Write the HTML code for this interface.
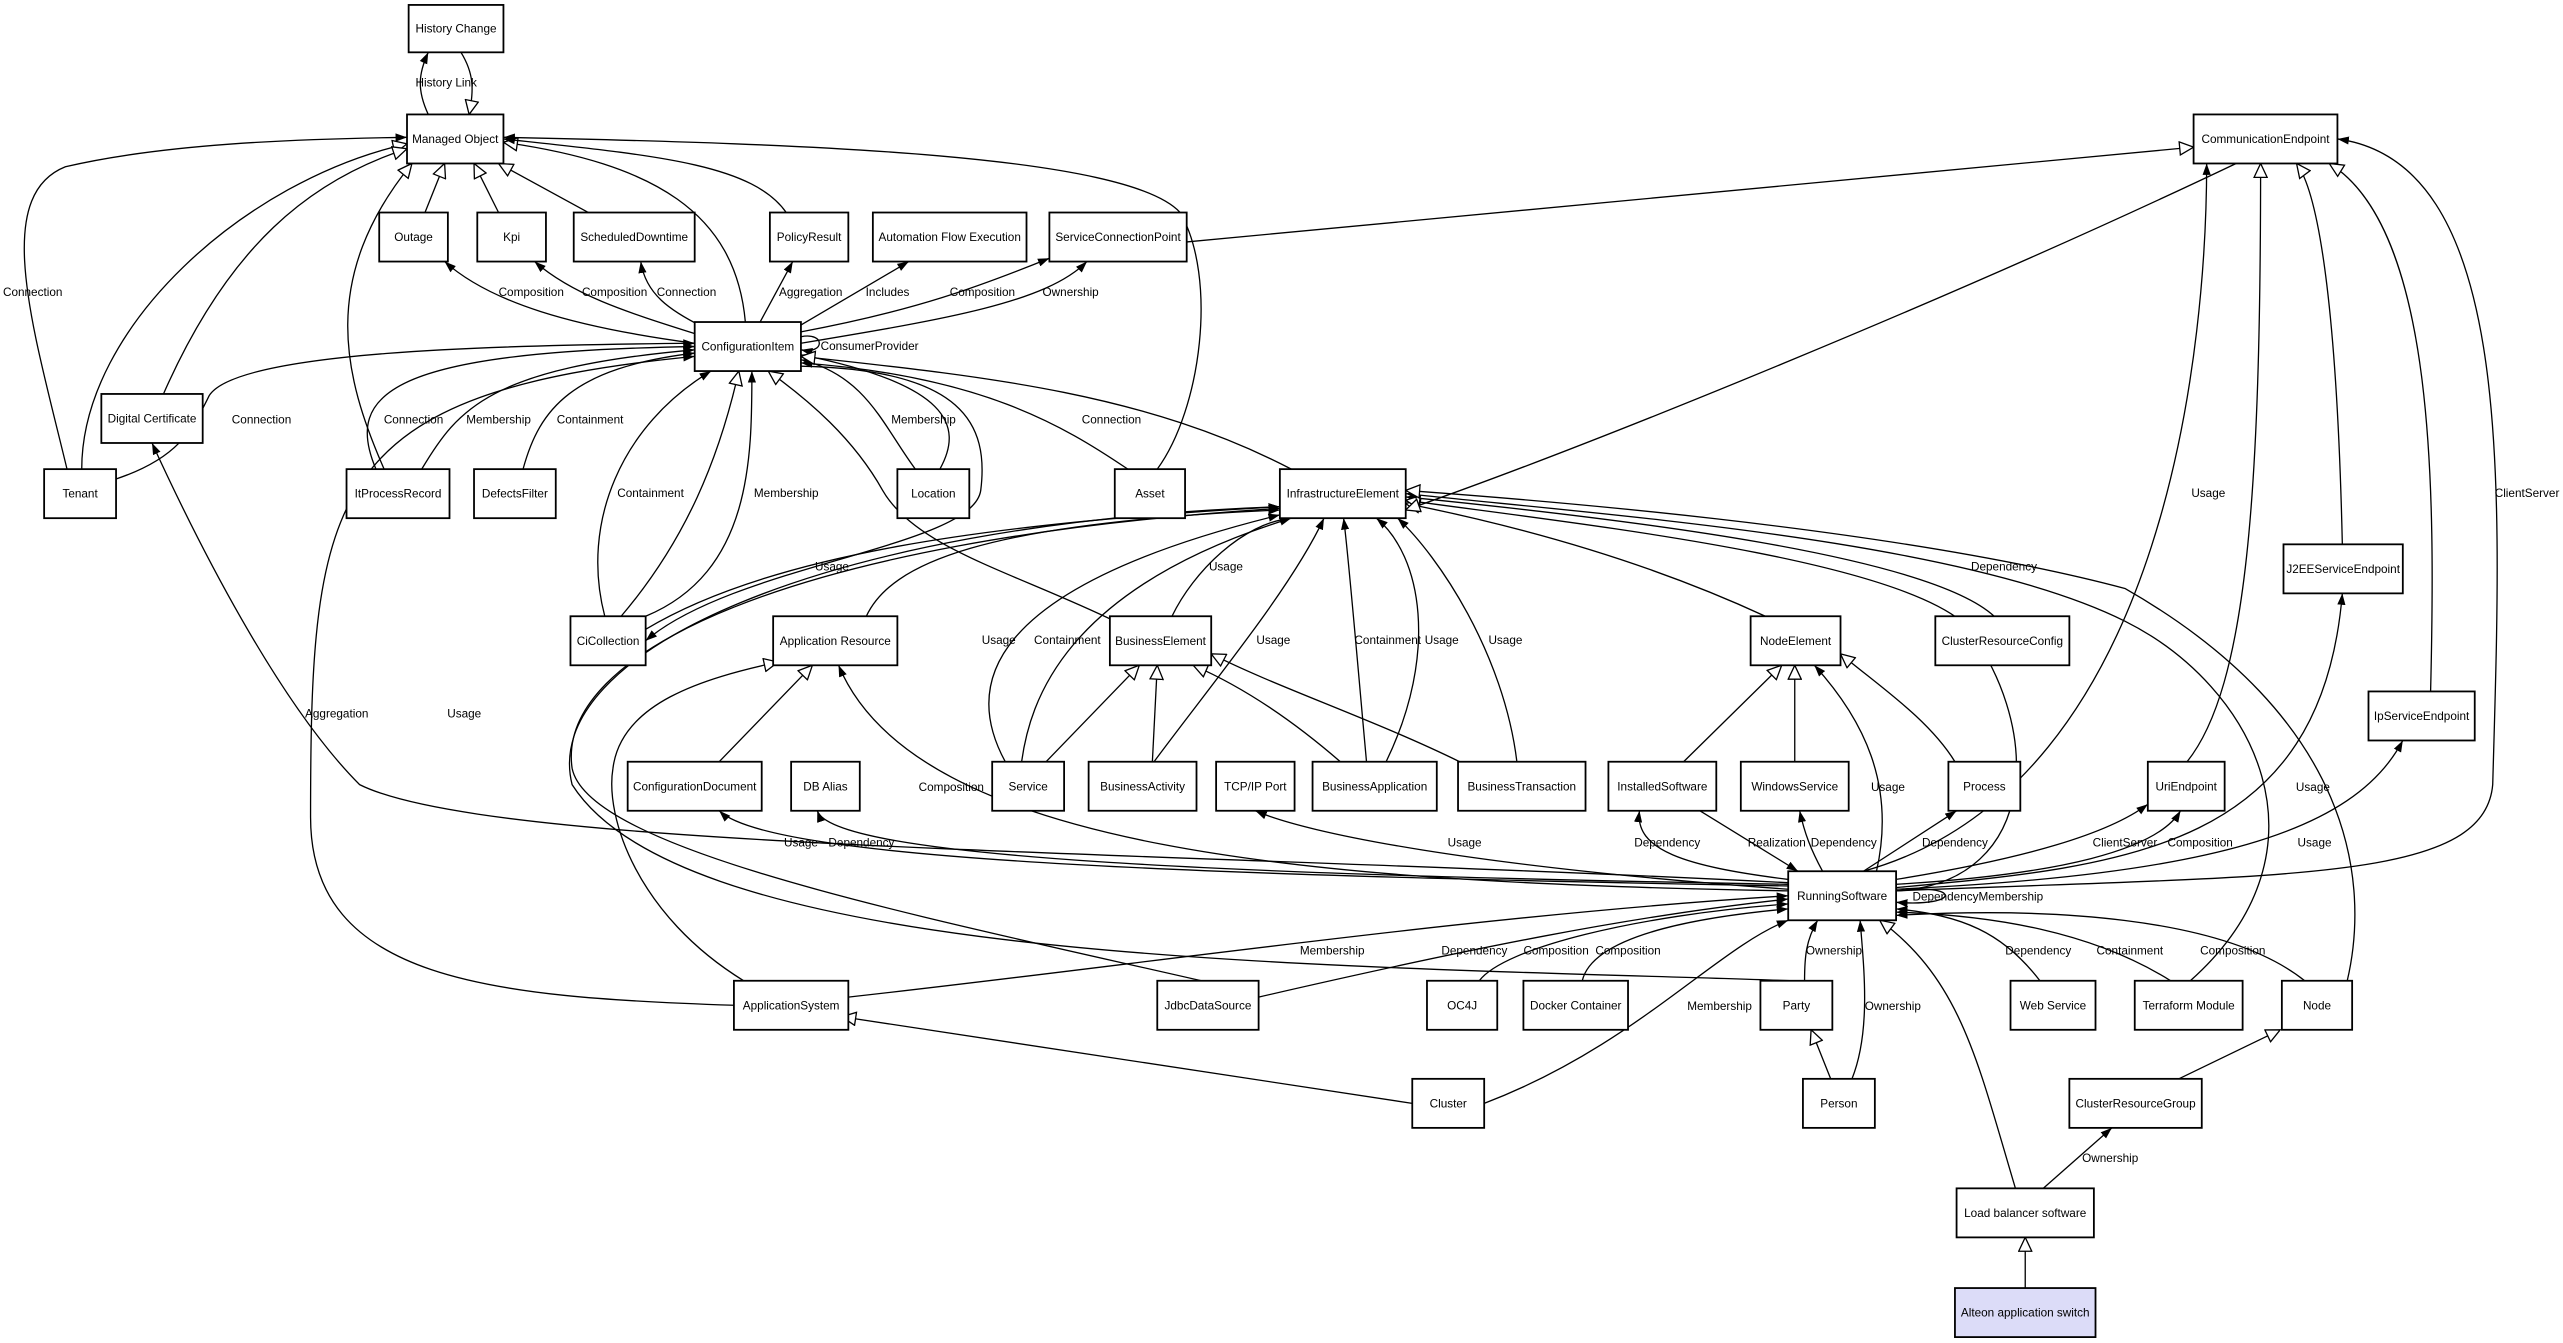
<!DOCTYPE html>
<html><head><meta charset="utf-8"><style>
html,body{margin:0;padding:0;background:#fff;}
svg{display:block;}
text{font-family:"Liberation Sans Narrow","Liberation Sans",sans-serif;font-size:7.2px;fill:#000;}
.n{fill:#fff;stroke:#000;stroke-width:1.1;}
.e{fill:none;stroke:#000;stroke-width:0.8;}
.f{marker-end:url(#f);}
.h{marker-end:url(#h);}
</style></head><body>
<svg width="2563" height="1343" viewBox="0 0 1568 821.6" xmlns="http://www.w3.org/2000/svg">
<defs>
<marker id="f" markerWidth="8" markerHeight="6" refX="7" refY="3" orient="auto" markerUnits="userSpaceOnUse"><path d="M0,0.5 L7,3 L0,5.5 Z" fill="#000"/></marker>
<marker id="h" markerWidth="10" markerHeight="9" refX="9" refY="4.5" orient="auto" markerUnits="userSpaceOnUse"><path d="M0.5,0.5 L9,4.5 L0.5,8.5 Z" fill="#fff" stroke="#000" stroke-width="0.8"/></marker>
</defs>
<g class="e">
<path class="f" d="M262,70 C255,55 256,45 262,32"/>
<path class="h" d="M282,32 C290,45 290,55 287,70"/>
<path class="f" d="M41,287 C20,200 -5,120 40,102 C100,88 180,85 249,84"/>
<path class="h" d="M50,287 C50,200 150,110 249,88"/>
<path class="h" d="M100,241 C140,150 190,110 249,91"/>
<path class="h" d="M235,287 C210,230 195,170 252,100"/>
<path class="h" d="M260,130 L272,100"/>
<path class="h" d="M305,130 L290,100"/>
<path class="h" d="M360,130 L305,100"/>
<path class="h" d="M456,197 C450,130 400,100 308,87"/>
<path class="f" d="M481,130 C460,100 400,95 308,85"/>
<path class="f" d="M708,287 C735,250 745,170 722,130 C690,95 500,88 308,84"/>
<path class="f" d="M425,210 C350,200 300,185 272,160"/>
<path class="f" d="M428,205 C380,190 350,180 327,160"/>
<path class="f" d="M430,200 C410,190 395,180 392,160"/>
<path class="f" d="M465,197 L485,160"/>
<path class="f" d="M488,200 L556,160"/>
<path class="f" d="M490,203 C560,190 600,175 642,158"/>
<path class="f" d="M490,210 C580,195 640,185 665,160"/>
<path class="h" d="M726,148 L1342,90"/>
<path class="f" d="M490,206 C505,203 505,217 490,214"/>
<path class="f" d="M71,293 C110,280 118,262 128,242 C145,215 300,211 425,210"/>
<path class="f" d="M230,287 C210,240 240,215 425,212"/>
<path class="f" d="M258,287 C280,250 300,225 425,214"/>
<path class="f" d="M320,287 C330,250 350,225 425,216"/>
<path class="f" d="M575,287 C590,260 580,235 490,217"/>
<path class="f" d="M560,287 C540,260 530,230 490,220"/>
<path class="f" d="M690,287 C650,260 600,230 490,222"/>
<path class="h" d="M790,287 C700,240 600,230 490,218"/>
<path class="f" d="M370,377 C355,320 380,260 435,227"/>
<path class="h" d="M380,377 C420,330 440,280 452,227"/>
<path class="f" d="M395,377 C460,350 460,280 460,227"/>
<path class="h" d="M682,380 C620,350 560,335 540,300 C522,268 495,245 470,227"/>
<path class="f" d="M395,385 C470,340 600,320 783,310"/>
<path class="f" d="M490,224 C590,226 605,260 600,300 C595,335 450,345 395,392"/>
<path class="f" d="M1094,540 C700,520 300,520 220,480 C170,430 120,330 93,271"/>
<path class="f" d="M449,615 C300,610 190,600 190,500 C190,300 200,240 425,218"/>
<path class="h" d="M455,600 C390,560 370,500 375,470 C380,430 430,415 476,405"/>
<path class="f" d="M735,600 C560,560 360,520 350,470 C340,400 480,330 783,311"/>
<path class="f" d="M1097,600 C800,590 420,590 350,480 C330,400 500,320 783,310"/>
<path class="h" d="M440,466 L497,407"/>
<path class="f" d="M530,377 C545,345 600,320 783,312"/>
<path class="f" d="M1094,545 C800,540 560,520 513,407"/>
<path class="f" d="M1094,542 C700,535 470,525 440,496"/>
<path class="f" d="M1094,541 C750,535 510,525 500,496"/>
<path class="f" d="M1094,544 C900,530 800,510 768,496"/>
<path class="f" d="M1094,538 C1030,530 1000,520 1003,496"/>
<path class="f" d="M1040,496 L1100,533"/>
<path class="f" d="M1115,533 C1108,520 1104,510 1101,496"/>
<path class="f" d="M1140,533 L1197,496"/>
<path class="f" d="M1160,538 C1240,525 1290,510 1314,492"/>
<path class="f" d="M1160,541 C1260,535 1320,520 1334,496"/>
<path class="f" d="M1148,533 C1160,480 1140,440 1110,407"/>
<path class="h" d="M1030,466 L1090,407"/>
<path class="h" d="M1098,466 L1098,407"/>
<path class="h" d="M1196,466 C1180,440 1150,420 1126,400"/>
<path class="h" d="M1080,377 C1000,340 920,320 860,308"/>
<path class="f" d="M1220,377 C1180,340 1000,318 860,304"/>
<path class="h" d="M1160,545 C1250,540 1250,440 1200,380 C1150,340 960,320 860,306"/>
<path class="f" d="M1340,600 C1430,520 1380,420 1300,380 C1200,330 980,315 860,302"/>
<path class="h" d="M1436,600 C1450,540 1440,440 1300,360 C1150,320 900,303 860,300"/>
<path class="f" d="M717,377 C730,350 760,320 790,317"/>
<path class="f" d="M615,466 C590,420 600,360 783,315"/>
<path class="f" d="M625,466 C630,430 650,360 790,317"/>
<path class="f" d="M706,466 C740,420 790,360 810,317"/>
<path class="f" d="M836,466 C830,400 825,340 822,317"/>
<path class="f" d="M848,466 C880,400 870,340 842,317"/>
<path class="f" d="M928,466 C920,400 880,340 855,317"/>
<path class="h" d="M640,466 L697,407"/>
<path class="h" d="M705,466 L708,407"/>
<path class="h" d="M820,466 C790,440 760,420 730,407"/>
<path class="h" d="M893,466 C840,440 780,420 741,400"/>
<path class="h" d="M1368,100 C1200,180 980,270 860,312"/>
<path class="f" d="M1140,533 C1330,480 1350,200 1350,100"/>
<path class="h" d="M1338,466 C1375,420 1383,300 1383,100"/>
<path class="h" d="M1433,333 C1430,200 1420,120 1405,100"/>
<path class="h" d="M1487,423 C1490,300 1490,140 1425,100"/>
<path class="f" d="M1160,545 C1400,535 1520,540 1525,480 C1530,300 1540,100 1430,85"/>
<path class="f" d="M1160,543 C1300,530 1420,520 1433,363"/>
<path class="f" d="M1160,544 C1350,535 1440,510 1470,453"/>
<path class="f" d="M1160,545 C1200,540 1200,555 1160,552"/>
<path class="f" d="M519,610 C700,590 900,560 1094,548"/>
<path class="f" d="M770,610 C900,580 1000,560 1094,550"/>
<path class="f" d="M905,600 C920,580 1000,560 1094,553"/>
<path class="f" d="M968,600 C975,570 1050,560 1094,556"/>
<path class="f" d="M908,675 C1000,640 1050,580 1094,563"/>
<path class="h" d="M864,675 L515,622"/>
<path class="f" d="M1104,600 C1104,585 1105,575 1112,563"/>
<path class="f" d="M1133,660 C1145,630 1140,590 1138,563"/>
<path class="h" d="M1120,660 L1108,630"/>
<path class="f" d="M1248,600 C1225,570 1200,560 1160,556"/>
<path class="f" d="M1328,600 C1280,570 1220,560 1160,558"/>
<path class="f" d="M1410,600 C1360,560 1250,555 1160,560"/>
<path class="h" d="M1233,727 C1210,650 1200,600 1150,563"/>
<path class="f" d="M1250,727 L1292,690"/>
<path class="h" d="M1333,660 L1395,630"/>
<path class="h" d="M1239,788 L1239,757"/>
</g>
<g>
<rect class="n" x="250" y="3" width="58" height="29"/><text x="279" y="20" text-anchor="middle">History Change</text>
<rect class="n" x="249" y="70" width="59" height="30"/><text x="278.5" y="87.5" text-anchor="middle">Managed Object</text>
<rect class="n" x="1342" y="70" width="88" height="30"/><text x="1386" y="87.5" text-anchor="middle">CommunicationEndpoint</text>
<rect class="n" x="232" y="130" width="42" height="30"/><text x="253" y="147.5" text-anchor="middle">Outage</text>
<rect class="n" x="292" y="130" width="42" height="30"/><text x="313" y="147.5" text-anchor="middle">Kpi</text>
<rect class="n" x="351" y="130" width="74" height="30"/><text x="388" y="147.5" text-anchor="middle">ScheduledDowntime</text>
<rect class="n" x="471" y="130" width="48" height="30"/><text x="495" y="147.5" text-anchor="middle">PolicyResult</text>
<rect class="n" x="534" y="130" width="94" height="30"/><text x="581" y="147.5" text-anchor="middle">Automation Flow Execution</text>
<rect class="n" x="642" y="130" width="84" height="30"/><text x="684" y="147.5" text-anchor="middle">ServiceConnectionPoint</text>
<rect class="n" x="425" y="197" width="65" height="30"/><text x="457.5" y="214.5" text-anchor="middle">ConfigurationItem</text>
<rect class="n" x="62" y="241" width="62" height="30"/><text x="93" y="258.5" text-anchor="middle">Digital Certificate</text>
<rect class="n" x="27" y="287" width="44" height="30"/><text x="49" y="304.5" text-anchor="middle">Tenant</text>
<rect class="n" x="212" y="287" width="63" height="30"/><text x="243.5" y="304.5" text-anchor="middle">ItProcessRecord</text>
<rect class="n" x="290" y="287" width="50" height="30"/><text x="315" y="304.5" text-anchor="middle">DefectsFilter</text>
<rect class="n" x="549" y="287" width="44" height="30"/><text x="571" y="304.5" text-anchor="middle">Location</text>
<rect class="n" x="682" y="287" width="43" height="30"/><text x="703.5" y="304.5" text-anchor="middle">Asset</text>
<rect class="n" x="783" y="287" width="77" height="30"/><text x="821.5" y="304.5" text-anchor="middle">InfrastructureElement</text>
<rect class="n" x="1397" y="333" width="73" height="30"/><text x="1433.5" y="350.5" text-anchor="middle">J2EEServiceEndpoint</text>
<rect class="n" x="349" y="377" width="46" height="30"/><text x="372" y="394.5" text-anchor="middle">CiCollection</text>
<rect class="n" x="473" y="377" width="76" height="30"/><text x="511" y="394.5" text-anchor="middle">Application Resource</text>
<rect class="n" x="679" y="377" width="62" height="30"/><text x="710" y="394.5" text-anchor="middle">BusinessElement</text>
<rect class="n" x="1071" y="377" width="55" height="30"/><text x="1098.5" y="394.5" text-anchor="middle">NodeElement</text>
<rect class="n" x="1184" y="377" width="82" height="30"/><text x="1225" y="394.5" text-anchor="middle">ClusterResourceConfig</text>
<rect class="n" x="1449" y="423" width="65" height="30"/><text x="1481.5" y="440.5" text-anchor="middle">IpServiceEndpoint</text>
<rect class="n" x="384" y="466" width="82" height="30"/><text x="425" y="483.5" text-anchor="middle">ConfigurationDocument</text>
<rect class="n" x="484" y="466" width="42" height="30"/><text x="505" y="483.5" text-anchor="middle">DB Alias</text>
<rect class="n" x="607" y="466" width="44" height="30"/><text x="629" y="483.5" text-anchor="middle">Service</text>
<rect class="n" x="666" y="466" width="66" height="30"/><text x="699" y="483.5" text-anchor="middle">BusinessActivity</text>
<rect class="n" x="744" y="466" width="48" height="30"/><text x="768" y="483.5" text-anchor="middle">TCP/IP Port</text>
<rect class="n" x="803" y="466" width="76" height="30"/><text x="841" y="483.5" text-anchor="middle">BusinessApplication</text>
<rect class="n" x="892" y="466" width="78" height="30"/><text x="931" y="483.5" text-anchor="middle">BusinessTransaction</text>
<rect class="n" x="984" y="466" width="66" height="30"/><text x="1017" y="483.5" text-anchor="middle">InstalledSoftware</text>
<rect class="n" x="1065" y="466" width="66" height="30"/><text x="1098" y="483.5" text-anchor="middle">WindowsService</text>
<rect class="n" x="1192" y="466" width="44" height="30"/><text x="1214" y="483.5" text-anchor="middle">Process</text>
<rect class="n" x="1314" y="466" width="47" height="30"/><text x="1337.5" y="483.5" text-anchor="middle">UriEndpoint</text>
<rect class="n" x="1094" y="533" width="66" height="30"/><text x="1127" y="550.5" text-anchor="middle">RunningSoftware</text>
<rect class="n" x="449" y="600" width="70" height="30"/><text x="484" y="617.5" text-anchor="middle">ApplicationSystem</text>
<rect class="n" x="708" y="600" width="62" height="30"/><text x="739" y="617.5" text-anchor="middle">JdbcDataSource</text>
<rect class="n" x="873" y="600" width="43" height="30"/><text x="894.5" y="617.5" text-anchor="middle">OC4J</text>
<rect class="n" x="932" y="600" width="64" height="30"/><text x="964" y="617.5" text-anchor="middle">Docker Container</text>
<rect class="n" x="1077" y="600" width="44" height="30"/><text x="1099" y="617.5" text-anchor="middle">Party</text>
<rect class="n" x="1230" y="600" width="52" height="30"/><text x="1256" y="617.5" text-anchor="middle">Web Service</text>
<rect class="n" x="1306" y="600" width="66" height="30"/><text x="1339" y="617.5" text-anchor="middle">Terraform Module</text>
<rect class="n" x="1396" y="600" width="43" height="30"/><text x="1417.5" y="617.5" text-anchor="middle">Node</text>
<rect class="n" x="864" y="660" width="44" height="30"/><text x="886" y="677.5" text-anchor="middle">Cluster</text>
<rect class="n" x="1103" y="660" width="44" height="30"/><text x="1125" y="677.5" text-anchor="middle">Person</text>
<rect class="n" x="1266" y="660" width="81" height="30"/><text x="1306.5" y="677.5" text-anchor="middle">ClusterResourceGroup</text>
<rect class="n" x="1197" y="727" width="84" height="30"/><text x="1239" y="744.5" text-anchor="middle">Load balancer software</text>
<rect class="n" x="1196" y="788" width="86" height="30" style="fill:#dcdcf8"/><text x="1239" y="805.5" text-anchor="middle">Alteon application switch</text>
</g>
<g text-anchor="middle">
<text x="273" y="53">History Link</text>
<text x="20" y="181">Connection</text>
<text x="325" y="181">Composition</text>
<text x="376" y="181">Composition</text>
<text x="420" y="181">Connection</text>
<text x="496" y="181">Aggregation</text>
<text x="543" y="181">Includes</text>
<text x="601" y="181">Composition</text>
<text x="655" y="181">Ownership</text>
<text x="532" y="214">ConsumerProvider</text>
<text x="160" y="259">Connection</text>
<text x="253" y="259">Connection</text>
<text x="305" y="259">Membership</text>
<text x="361" y="259">Containment</text>
<text x="565" y="259">Membership</text>
<text x="680" y="259">Connection</text>
<text x="398" y="304">Containment</text>
<text x="481" y="304">Membership</text>
<text x="1351" y="304">Usage</text>
<text x="1546" y="304">ClientServer</text>
<text x="509" y="349">Usage</text>
<text x="750" y="349">Usage</text>
<text x="1226" y="349">Dependency</text>
<text x="611" y="394">Usage</text>
<text x="653" y="394">Containment</text>
<text x="779" y="394">Usage</text>
<text x="849" y="394">Containment</text>
<text x="882" y="394">Usage</text>
<text x="921" y="394">Usage</text>
<text x="206" y="439">Aggregation</text>
<text x="284" y="439">Usage</text>
<text x="582" y="484">Composition</text>
<text x="1155" y="484">Usage</text>
<text x="1415" y="484">Usage</text>
<text x="490" y="518">Usage</text>
<text x="527" y="518">Dependency</text>
<text x="896" y="518">Usage</text>
<text x="1020" y="518">Dependency</text>
<text x="1087" y="518">Realization</text>
<text x="1128" y="518">Dependency</text>
<text x="1196" y="518">Dependency</text>
<text x="1300" y="518">ClientServer</text>
<text x="1346" y="518">Composition</text>
<text x="1416" y="518">Usage</text>
<text x="1210" y="551">DependencyMembership</text>
<text x="815" y="584">Membership</text>
<text x="902" y="584">Dependency</text>
<text x="952" y="584">Composition</text>
<text x="996" y="584">Composition</text>
<text x="1122" y="584">Ownership</text>
<text x="1247" y="584">Dependency</text>
<text x="1303" y="584">Containment</text>
<text x="1366" y="584">Composition</text>
<text x="1052" y="618">Membership</text>
<text x="1158" y="618">Ownership</text>
<text x="1291" y="711">Ownership</text>
</g>
</svg>
</body></html>
